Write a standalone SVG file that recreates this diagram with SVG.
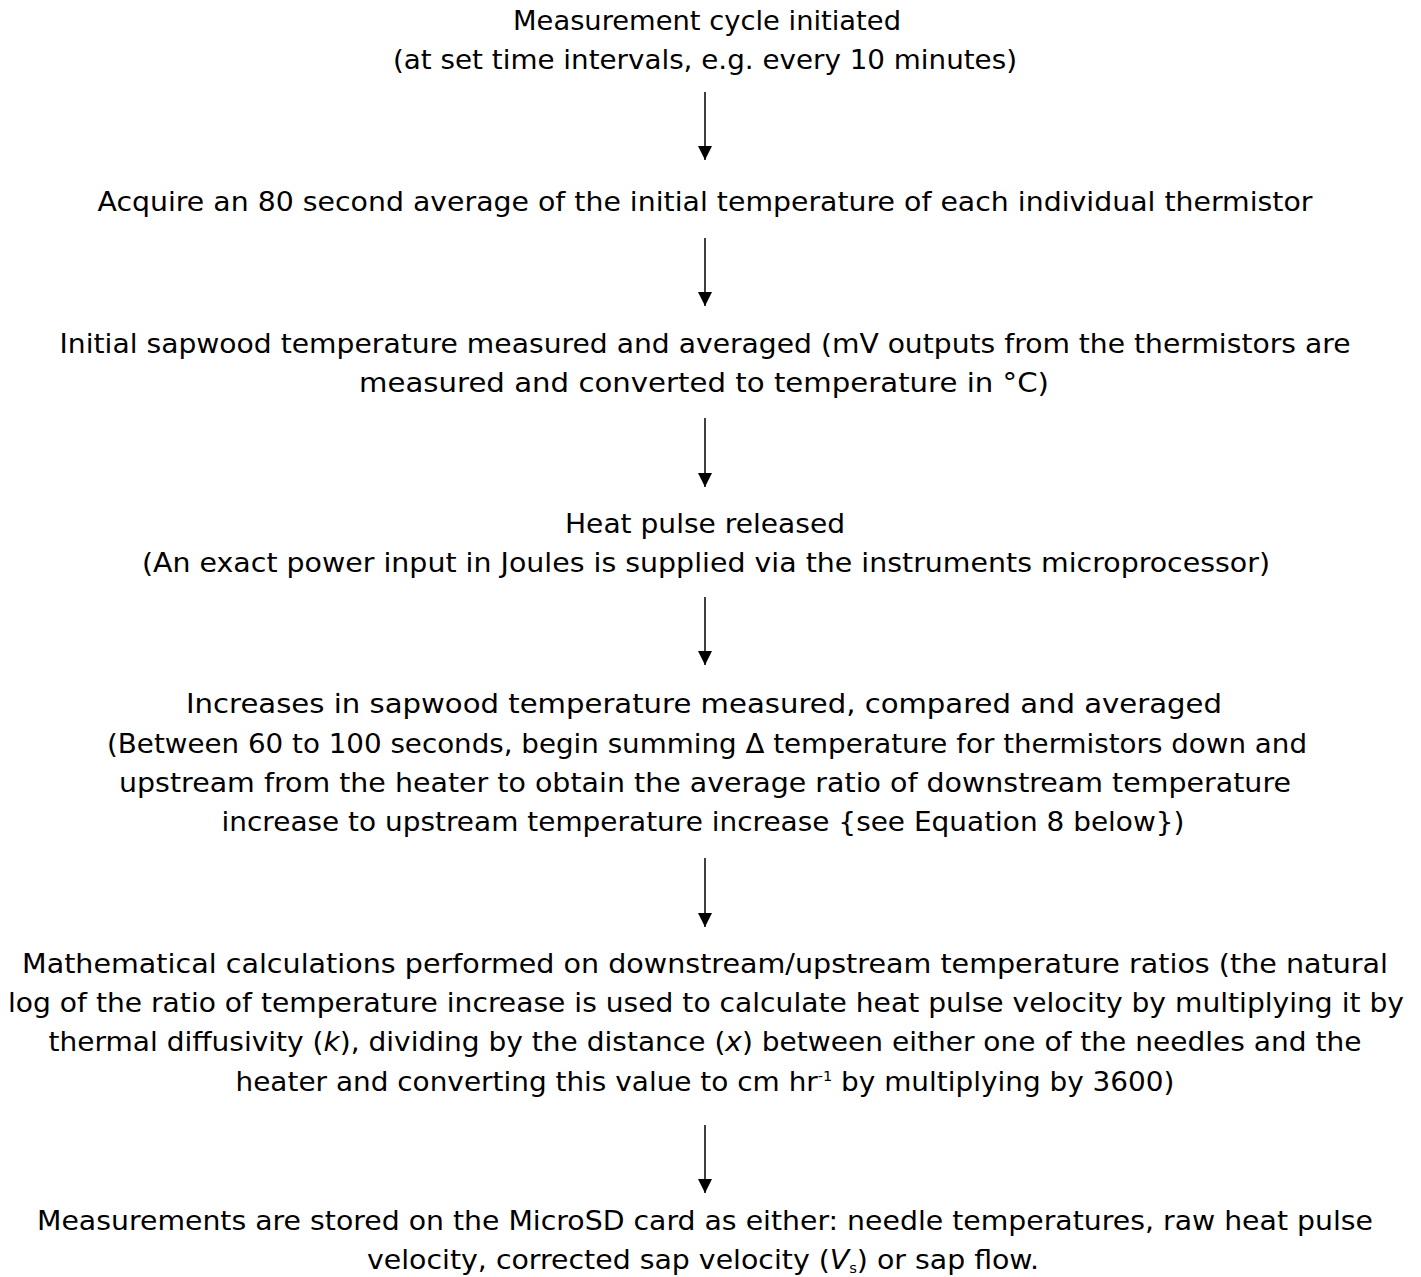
<svg xmlns="http://www.w3.org/2000/svg" width="1421" height="1277" viewBox="0 0 1421 1277">
<style>
text{font-family:"DejaVu Sans","Liberation Sans",sans-serif;font-size:27px;fill:#000;text-anchor:middle}
.c line{stroke:#000;stroke-width:1.5}
</style>
<defs>
<marker id="ah" markerWidth="14" markerHeight="16" refX="14" refY="7" orient="auto" markerUnits="userSpaceOnUse" viewBox="0 0 14 14">
<path d="M0,0 L14,7 L0,14 z" fill="#000"/>
</marker>
</defs>
<rect width="1421" height="1277" fill="#fff"/>
<g id="n1">
<text x="707" y="30" textLength="388" lengthAdjust="spacingAndGlyphs">Measurement cycle initiated</text>
<text x="705" y="69" textLength="624" lengthAdjust="spacingAndGlyphs">(at set time intervals, e.g. every 10 minutes)</text>
</g>
<g id="n2">
<text x="705" y="211" textLength="1215" lengthAdjust="spacingAndGlyphs">Acquire an 80 second average of the initial temperature of each individual thermistor</text>
</g>
<g id="n3">
<text x="705" y="353" textLength="1291" lengthAdjust="spacingAndGlyphs">Initial sapwood temperature measured and averaged (mV outputs from the thermistors are</text>
<text x="704" y="392" textLength="690" lengthAdjust="spacingAndGlyphs">measured and converted to temperature in °C)</text>
</g>
<g id="n4">
<text x="705" y="533" textLength="280" lengthAdjust="spacingAndGlyphs">Heat pulse released</text>
<text x="706" y="572" textLength="1128" lengthAdjust="spacingAndGlyphs">(An exact power input in Joules is supplied via the instruments microprocessor)</text>
</g>
<g id="n5">
<text x="704" y="713" textLength="1036" lengthAdjust="spacingAndGlyphs">Increases in sapwood temperature measured, compared and averaged</text>
<text x="707" y="753" textLength="1200" lengthAdjust="spacingAndGlyphs">(Between 60 to 100 seconds, begin summing Δ temperature for thermistors down and</text>
<text x="705" y="792" textLength="1172" lengthAdjust="spacingAndGlyphs">upstream from the heater to obtain the average ratio of downstream temperature</text>
<text x="703" y="831" textLength="963" lengthAdjust="spacingAndGlyphs">increase to upstream temperature increase {see Equation 8 below})</text>
</g>
<g id="n6">
<text x="705" y="973" textLength="1366" lengthAdjust="spacingAndGlyphs">Mathematical calculations performed on downstream/upstream temperature ratios (the natural</text>
<text x="706" y="1012" textLength="1396" lengthAdjust="spacingAndGlyphs">log of the ratio of temperature increase is used to calculate heat pulse velocity by multiplying it by</text>
<text x="705" y="1051" textLength="1313" lengthAdjust="spacingAndGlyphs">thermal diffusivity (<tspan font-style="italic">k</tspan>), dividing by the distance (<tspan font-style="italic">x</tspan>) between either one of the needles and the</text>
<text x="705" y="1091" textLength="939" lengthAdjust="spacingAndGlyphs">heater and converting this value to cm hr<tspan font-size="14" dy="-10">-1</tspan><tspan dy="10"> by multiplying by 3600)</tspan></text>
</g>
<g id="n7">
<text x="705" y="1230" textLength="1336" lengthAdjust="spacingAndGlyphs">Measurements are stored on the MicroSD card as either: needle temperatures, raw heat pulse</text>
<text x="703" y="1269" textLength="672" lengthAdjust="spacingAndGlyphs">velocity, corrected sap velocity (<tspan font-style="italic">V</tspan><tspan font-size="14" dy="4">s</tspan><tspan dy="-4">) or sap flow.</tspan></text>
</g>
<g class="c" id="connectors">
<line x1="705" y1="92" x2="705" y2="160" marker-end="url(#ah)"/>
<line x1="705" y1="238" x2="705" y2="306" marker-end="url(#ah)"/>
<line x1="705" y1="418" x2="705" y2="487" marker-end="url(#ah)"/>
<line x1="705" y1="597" x2="705" y2="665" marker-end="url(#ah)"/>
<line x1="705" y1="858" x2="705" y2="927" marker-end="url(#ah)"/>
<line x1="705" y1="1125" x2="705" y2="1193" marker-end="url(#ah)"/>
</g>
</svg>
